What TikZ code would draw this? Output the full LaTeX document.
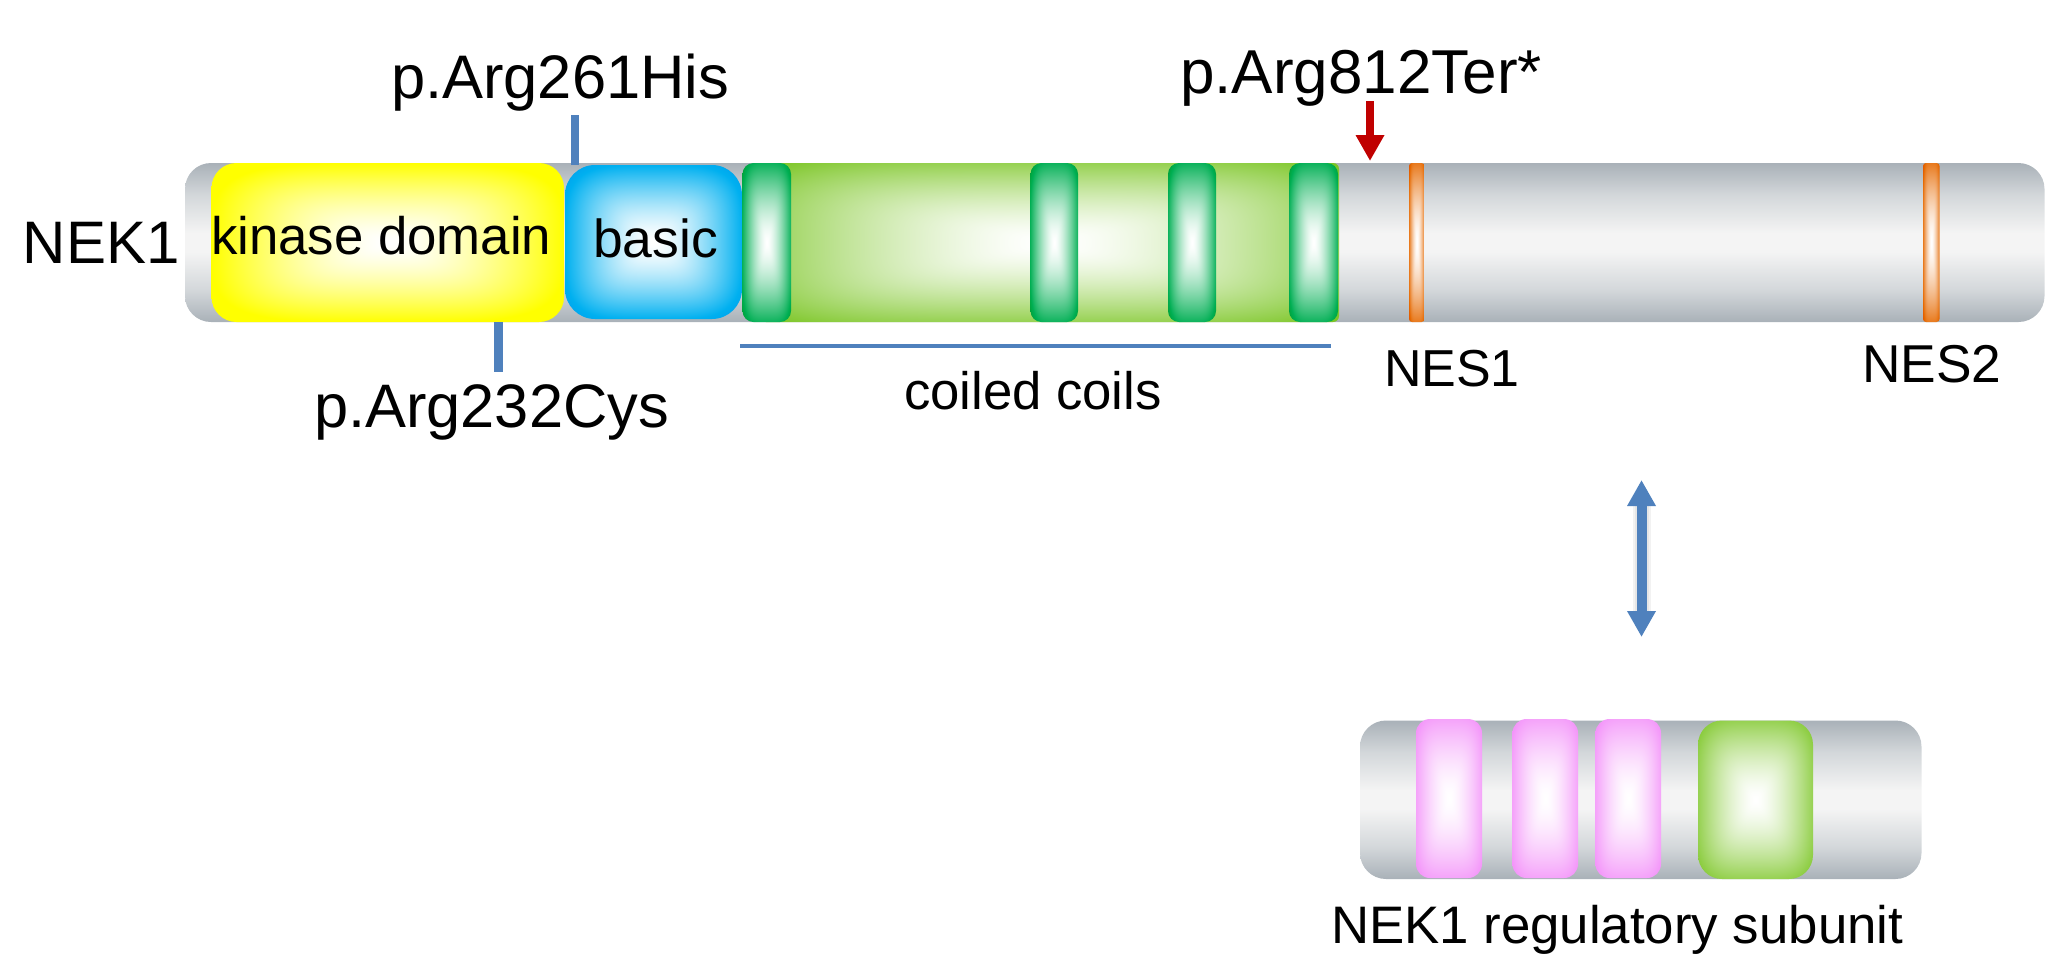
\documentclass[tikz,border=0pt]{standalone}
\usepackage{fontspec}
\setmainfont{Liberation Sans}
\usetikzlibrary{arrows.meta}
\newcommand\rectshade[4]{\pgfdeclarefunctionalshading{#1}{\pgfpoint{-50bp}{-50bp}}{\pgfpoint{50bp}{50bp}}{}{25 div dup mul dup mul exch 25 div dup mul dup mul add sqrt sqrt dup sqrt mul dup #2 mul 1 exch sub exch dup #3 mul 1 exch sub exch #4 mul 1 exch sub}}
\rectshade{shYellow}{0}{0}{1}
\rectshade{shBlue}{1}{0.31}{0.06}
\rectshade{shStripe}{0.95}{0.30}{0.64}
\rectshade{shCoil}{0.41}{0.18}{0.68}
\rectshade{shPink}{0.04}{0.36}{0.02}
\rectshade{shOrange}{0.09}{0.52}{0.88}
\definecolor{barEdge}{HTML}{A9B1B8}
\definecolor{barMid}{HTML}{D3D7DA}
\definecolor{barCore}{HTML}{F4F4F4}
\definecolor{tickBlue}{HTML}{4F81BD}
\definecolor{stopRed}{HTML}{C00000}
\pgfdeclareverticalshading{shBar}{100bp}{color(0bp)=(barEdge);color(25bp)=(barEdge);color(35bp)=(barMid);color(47bp)=(barCore);color(53bp)=(barCore);color(65bp)=(barMid);color(75bp)=(barEdge);color(100bp)=(barEdge)}
\newcommand\boxnode[7]{\node[inner sep=0pt,outer sep=0pt,shading=#6,rounded corners=#7pt,minimum width={(#4-#2)*1pt},minimum height={(#5-#3)*1pt}] (#1) at ({(#2+#4)/2},{(#3+#5)/2}) {};}
\newcommand\txt[5]{\node[inner sep=0pt,outer sep=0pt,anchor=base west,font=\fontsize{#4}{#4}\selectfont] (#1) at (#2,#3) {#5};}
\begin{document}
\begin{tikzpicture}[x=1pt,y=-1pt,
  tick/.style={draw=tickBlue,line width=8.5pt},
  thinrule/.style={draw=tickBlue,line width=4pt},
  stoparrow/.style={draw=stopRed,line width=8pt,-{Triangle[length=26pt,width=27pt,fill=stopRed]}},
  linkarrow/.style={draw=tickBlue,line width=10pt,{Triangle[length=26pt,width=27pt,fill=tickBlue]}-{Triangle[length=26pt,width=27pt,fill=tickBlue]}},
  linkshadow/.style={draw=black,draw opacity=.05,shorten >=24pt,shorten <=24pt}]
\useasboundingbox (0,0) rectangle (2069,975);
% main bar
\boxnode{bar}{185}{163}{2044.5}{322}{shBar}{26}
\boxnode{kinase}{211.5}{163}{564}{322}{shYellow}{25}
\boxnode{basic}{565}{165}{742}{319}{shBlue}{30}
\boxnode{coil}{760}{163}{1339}{322}{shCoil}{6}
\boxnode{cc1}{742.5}{163}{791}{322}{shStripe}{11}
\boxnode{cc2}{1030.5}{163}{1078}{322}{shStripe}{11}
\boxnode{cc3}{1168}{163}{1216}{322}{shStripe}{11}
\boxnode{cc4}{1289}{163}{1338}{322}{shStripe}{11}
\boxnode{nes1}{1409}{163}{1424.5}{322}{shOrange}{3}
\boxnode{nes2}{1923}{163}{1939.5}{322}{shOrange}{3}
% regulatory subunit
\boxnode{sub}{1360}{720.5}{1921.5}{879}{shBar}{26}
\boxnode{p1}{1416}{719}{1482}{878}{shPink}{14}
\boxnode{p2}{1512.5}{719}{1578}{878}{shPink}{14}
\boxnode{p3}{1595.5}{719}{1661}{878}{shPink}{14}
\boxnode{gr}{1698}{720.5}{1813}{879}{shCoil}{24}
% labels
\txt{lNek}{23}{263}{60}{NEK1}
\txt{lKin}{211}{254}{52.8}{kinase domain}
\txt{lBas}{593}{257}{53.5}{basic}
\txt{lHis}{391}{98}{61.5}{p.Arg261His}
\txt{lCys}{314}{427}{61.4}{p.Arg232Cys}
\txt{lTer}{1180}{93}{62}{p.Arg812Ter*}
\txt{lCoil}{904}{409}{52.7}{coiled coils}
\txt{lNes1}{1384}{386}{52}{NES1}
\txt{lNes2}{1862}{382}{53.3}{NES2}
\txt{lSub}{1331}{943}{52.8}{NEK1 regulatory subunit}
% connectors
\coordinate (t261) at (575,115);
\coordinate (t232) at (498.5,372);
\coordinate (ruleL) at (740,346);
\coordinate (ruleR) at (1331,346);
\coordinate (stopTop) at (1370,101);
\coordinate (stopEnd) at (1370,161);
\coordinate (linkTop) at (1641.5,480);
\coordinate (linkBot) at (1641.5,637);
\draw[tick] (t261) -- (t261 |- basic.north);
\draw[tick] (t232 |- kinase.south) -- (t232);
\draw[thinrule] (ruleL) -- (ruleR);
\draw[stoparrow] (stopTop) -- (stopEnd);
\draw[linkshadow,line width=18pt] (linkTop) -- (linkBot);
\draw[linkshadow,line width=14pt] (linkTop) -- (linkBot);
\draw[linkarrow] (linkTop) -- (linkBot);
\end{tikzpicture}
\end{document}
